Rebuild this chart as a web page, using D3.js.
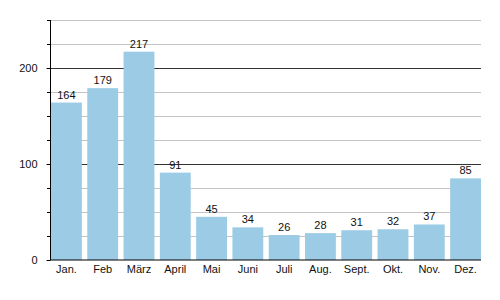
<!DOCTYPE html>
<html>
<head>
<meta charset="utf-8">
<script src="https://cdn.jsdelivr.net/npm/d3@7"></script>
<style>
    body { margin: 0; background: #fff; }
    text { font-family: "Liberation Sans", Arial, sans-serif; font-size: 11px; fill: #111; }
</style>
</head>
<body>
<script>
const months = ["Jan.", "Feb", "März", "April", "Mai", "Juni", "Juli", "Aug.", "Sept.", "Okt.", "Nov.", "Dez."];
const values = [164, 179, 217, 91, 45, 34, 26, 28, 31, 32, 37, 85];
const majorTicks = [0, 100, 200];
const minorTicks = [25, 50, 75, 125, 150, 175, 225, 250];

const width = 500, height = 300;
const margin = {top: 20, left: 51, right: 19, bottom: 40};

const svg = d3.select(document.body).append("svg")
    .attr("width", width)
    .attr("height", height);

const x = d3.scaleBand()
    .domain(months)
    .range([margin.left, width - margin.right])
    .paddingInner(0.15)
    .paddingOuter(0);

const y = d3.scaleLinear()
    .domain([0, 250])
    .range([height - margin.bottom, margin.top]);

const py = d => Math.round(y(d)) + 0.5;

// minor grid
svg.append("g")
    .selectAll("line")
    .data(minorTicks)
    .join("line")
    .attr("x1", margin.left)
    .attr("x2", width - margin.right)
    .attr("y1", py)
    .attr("y2", py)
    .attr("stroke", "#c4c4c4");

// minor ticks
svg.append("g")
    .selectAll("line")
    .data(minorTicks)
    .join("line")
    .attr("x1", margin.left - 4)
    .attr("x2", margin.left)
    .attr("y1", py)
    .attr("y2", py)
    .attr("stroke", "#000");

// major grid
svg.append("g")
    .selectAll("line")
    .data(majorTicks.filter(d => d > 0))
    .join("line")
    .attr("x1", margin.left - 4)
    .attr("x2", width - margin.right)
    .attr("y1", py)
    .attr("y2", py)
    .attr("stroke", "#333");

// bars
svg.append("g")
    .selectAll("rect")
    .data(values)
    .join("rect")
    .attr("x", (d, i) => x(months[i]))
    .attr("width", x.bandwidth())
    .attr("y", d => y(d))
    .attr("height", d => y(0) - y(d))
    .attr("fill", "#9bcbe5");

// value labels
svg.append("g")
    .selectAll("text")
    .data(values)
    .join("text")
    .attr("x", (d, i) => x(months[i]) + x.bandwidth() / 2)
    .attr("y", d => y(d) - 4)
    .attr("text-anchor", "middle")
    .text(d => d);

// y axis
const yAxis = svg.append("g")
    .attr("transform", `translate(${margin.left - 0.5},0)`)
    .call(d3.axisLeft(y).tickValues(majorTicks).tickSize(4).tickPadding(9));
yAxis.select(".domain").attr("stroke", "#000").attr("d", `M0,${margin.top}V${y(0)}`);
yAxis.selectAll(".tick line").attr("stroke", "#000");
yAxis.selectAll(".tick text").style("font-size", "11px").attr("fill", "#111");

// x axis
const xAxis = svg.append("g")
    .attr("transform", `translate(0,${y(0)})`)
    .call(d3.axisBottom(x).tickSize(0).tickPadding(5));
xAxis.select(".domain").attr("stroke", "#000").attr("d", `M${margin.left - 1},0H${width - margin.right}`);
xAxis.selectAll(".tick text").style("font-size", "11px").attr("fill", "#111");
</script>
</body>
</html>
